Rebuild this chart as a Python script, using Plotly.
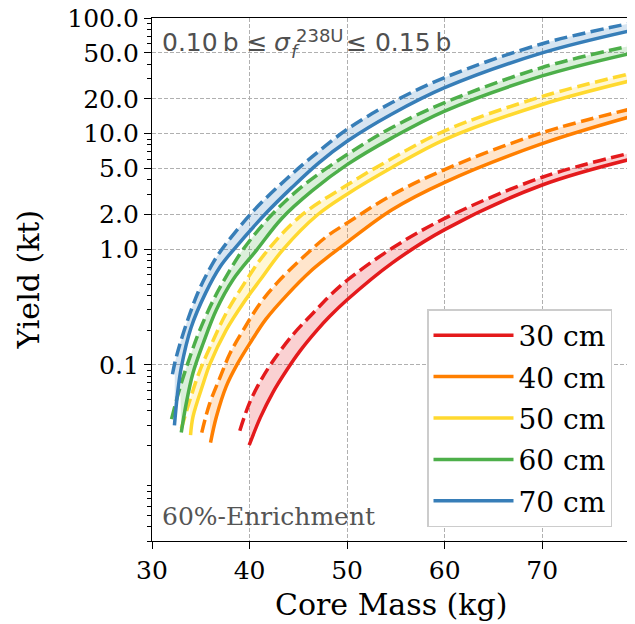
import plotly.graph_objects as go

# ---------------- data ----------------
# 70 cm
R70_DASH_X = [32.1, 32.35, 32.9, 33.9, 34.9, 36.3, 37.0, 37.6, 40.4, 43.7, 46.4, 50.0, 54.6, 60.0, 70.0, 79.0]
R70_DASH_Y = [0.083, 0.105, 0.155, 0.28, 0.46, 0.776, 0.955, 1.12, 2.15, 4.0, 6.3, 10.9, 18.6, 30.6, 60.0, 90.0]
R70_SOL_X = [32.3, 32.6, 33.0, 34.0, 35.5, 37.0, 38.4, 41.8, 44.3, 47.1, 50.0, 54.6, 60.0, 70.0, 79.0]
R70_SOL_Y = [0.03, 0.055, 0.095, 0.21, 0.42, 0.71, 1.0, 2.1, 3.4, 5.6, 8.6, 14.8, 25.0, 50.0, 77.6]
# 60 cm
R60_DASH_X = [32.0, 32.9, 33.9, 34.9, 36.3, 37.6, 39.35, 42.3, 45.4, 50.0, 54.6, 60.0, 70.0, 79.0]
R60_DASH_Y = [0.034, 0.065, 0.118, 0.20, 0.366, 0.58, 1.0, 2.0, 3.5, 6.6, 11.3, 18.6, 37.4, 57.5]
R60_SOL_X = [33.0, 33.5, 34.2, 35.25, 36.6, 38.3, 40.7, 43.3, 46.4, 50.0, 54.6, 60.0, 70.0, 79.0]
R60_SOL_Y = [0.026, 0.046, 0.085, 0.154, 0.30, 0.545, 0.98, 1.85, 3.2, 5.4, 9.2, 15.7, 31.6, 49.4]
# 50 cm
R50_DASH_X = [33.0, 33.9, 34.9, 36.3, 37.6, 39.35, 41.5, 45.1, 50.0, 54.6, 60.0, 70.0, 79.0]
R50_DASH_Y = [0.028, 0.05, 0.089, 0.165, 0.28, 0.49, 0.90, 1.9, 3.6, 6.1, 10.6, 21.0, 33.0]
R50_SOL_X = [33.95, 34.2, 35.25, 35.9, 37.6, 39.35, 41.1, 43.45, 47.0, 50.0, 54.6, 60.0, 70.0, 79.0]
R50_SOL_Y = [0.0247, 0.0356, 0.069, 0.10, 0.20, 0.342, 0.545, 1.0, 2.0, 3.0, 5.1, 8.9, 17.9, 28.6]
# 40 cm
R40_DASH_X = [35.1, 35.9, 37.0, 38.0, 39.35, 41.1, 42.8, 45.2, 47.9, 50.0, 54.6, 60.0, 70.0, 79.0]
R40_DASH_Y = [0.026, 0.046, 0.079, 0.126, 0.20, 0.342, 0.51, 0.81, 1.29, 1.69, 2.95, 4.9, 10.2, 16.3]
R40_SOL_X = [36.0, 36.6, 37.6, 38.7, 40.0, 41.7, 43.8, 46.2, 48.2, 50.0, 54.6, 60.0, 70.0, 79.0]
R40_SOL_Y = [0.0213, 0.0356, 0.065, 0.10, 0.152, 0.25, 0.40, 0.64, 0.88, 1.15, 2.2, 3.8, 8.2, 14.0]
# 30 cm
R30_DASH_X = [39.0, 40.0, 41.1, 42.4, 44.5, 46.5, 48.2, 50.0, 54.6, 60.0, 70.0, 79.0]
R30_DASH_Y = [0.027, 0.047, 0.072, 0.108, 0.185, 0.28, 0.395, 0.54, 1.02, 1.85, 4.2, 6.8]
R30_SOL_X = [39.96, 41.1, 42.4, 43.8, 45.2, 46.9, 48.2, 50.0, 54.6, 60.0, 70.0, 79.0]
R30_SOL_Y = [0.0202, 0.035, 0.058, 0.090, 0.133, 0.199, 0.262, 0.366, 0.76, 1.48, 3.6, 6.0]

LABELS = ["30 cm", "40 cm", "50 cm", "60 cm", "70 cm"]
COLORS = ["#e41a1c", "#ff7f00", "#ffd92f", "#4daf4a", "#377eb8"]
FILLS = ["rgba(228,26,28,0.2)", "rgba(255,127,0,0.2)", "rgba(255,217,47,0.2)",
         "rgba(77,175,74,0.2)", "rgba(55,126,184,0.2)"]

Y_TICKS = [0.1, 1, 2, 5, 10, 20, 50, 100]
Y_TICKTEXT = ["0.1", "1.0", "2.0", "5.0", "10.0", "20.0", "50.0", "100.0"]
X_TICKS = [30, 40, 50, 60, 70]

SERIES = [
    (R30_DASH_X, R30_DASH_Y, R30_SOL_X, R30_SOL_Y),
    (R40_DASH_X, R40_DASH_Y, R40_SOL_X, R40_SOL_Y),
    (R50_DASH_X, R50_DASH_Y, R50_SOL_X, R50_SOL_Y),
    (R60_DASH_X, R60_DASH_Y, R60_SOL_X, R60_SOL_Y),
    (R70_DASH_X, R70_DASH_Y, R70_SOL_X, R70_SOL_Y),
]

fig = go.Figure()
for (dx, dy, sx, sy), lab, col, fcol in zip(SERIES, LABELS, COLORS, FILLS):
    # band between the two cross-section limits
    keep = [i for i, v in enumerate(dx) if v >= sx[0] - 0.15]
    fig.add_trace(go.Scatter(x=[dx[i] for i in keep], y=[dy[i] for i in keep],
                             mode="lines", line=dict(width=0, shape="spline"),
                             hoverinfo="skip", showlegend=False))
    fig.add_trace(go.Scatter(x=sx, y=sy, mode="lines", line=dict(width=0, shape="spline"),
                             fill="tonexty", fillcolor=fcol,
                             hoverinfo="skip", showlegend=False))
    fig.add_trace(go.Scatter(x=dx, y=dy, mode="lines",
                             line=dict(color=col, width=3.5, dash="13px,5.5px", shape="spline"),
                             showlegend=False))
    fig.add_trace(go.Scatter(x=sx, y=sy, mode="lines", name=lab,
                             line=dict(color=col, width=3.5, shape="spline"),
                             legendgroup=lab))

# the page body has an 8 px default margin; the figure is sized to fit the window
OFF = 8
W, H = 635 - OFF, 624 - OFF
L, R, T, B = 144, 5, 10, 83
pw, ph = W - L - R, H - T - B


def px_x(p):
    """page pixel x -> paper coordinate"""
    return (p - OFF - L) / pw


def px_y(p):
    """page pixel y -> paper coordinate"""
    return (H - B - (p - OFF)) / ph


minor_vals = []
for dec in [0.001, 0.01, 0.1, 1, 10]:
    for m in range(2, 10):
        v = m * dec
        if 0.003 <= v <= 100 and v not in Y_TICKS:
            minor_vals.append(v)

grid = dict(showgrid=True, gridcolor="#b0b0b0", griddash="4px,2px", gridwidth=0.8)
axline = dict(showline=True, linecolor="black", linewidth=1.3, mirror=True,
              ticks="outside", ticklen=7, tickwidth=1.2, tickcolor="black", automargin=False,
              ticklabeloverflow="allow",
              tickfont=dict(family="DejaVu Serif", size=25, color="black"), zeroline=False)

fig.update_layout(
    width=W, height=H,
    margin=dict(l=L, r=R, t=T, b=B, autoexpand=False),
    paper_bgcolor="white", plot_bgcolor="white",
    xaxis=dict(range=[30, 79], tickvals=X_TICKS, ticktext=[str(v) for v in X_TICKS],
               **grid, **axline),
    yaxis=dict(type="log", range=[-2.5229, 2.0008], tickvals=Y_TICKS, ticktext=Y_TICKTEXT,
               minor=dict(tickvals=minor_vals, ticks="outside", ticklen=4, tickwidth=1,
                          tickcolor="black", showgrid=False),
               **grid, **axline),
    legend=dict(x=px_x(427), y=px_y(309), xanchor="left", yanchor="top",
                bgcolor="white", bordercolor="#cccccc", borderwidth=1.5,
                font=dict(family="DejaVu Serif", size=28, color="black"),
                itemwidth=80, traceorder="grouped", tracegroupgap=2),
    showlegend=True,
)

ann_font_sans = dict(family="DejaVu Sans", size=25, color="#505050")
annotations = [
    dict(text="Core Mass (kg)", x=0.5, y=px_y(604), xref="paper", yref="paper",
         showarrow=False, xanchor="center", yanchor="middle",
         font=dict(family="DejaVu Serif", size=30, color="black")),
    dict(text="Yield (kt)", x=px_x(28), y=0.5, xref="paper", yref="paper", textangle=-90,
         showarrow=False, xanchor="center", yanchor="middle",
         font=dict(family="DejaVu Serif", size=30, color="black")),
    dict(text="60%-Enrichment", x=px_x(161), y=px_y(516), xref="paper", yref="paper",
         showarrow=False, xanchor="left", yanchor="middle",
         font=dict(family="DejaVu Serif", size=25, color="#555555")),
    dict(text="0.10\u2009b \u2264", x=px_x(161), y=px_y(42), xref="paper", yref="paper",
         showarrow=False, xanchor="left", yanchor="middle", font=ann_font_sans),
    dict(text="<i>\u03c3</i>", x=px_x(273), y=px_y(42), xref="paper", yref="paper",
         showarrow=False, xanchor="left", yanchor="middle", font=ann_font_sans),
    dict(text="238U", x=px_x(295), y=px_y(35), xref="paper", yref="paper",
         showarrow=False, xanchor="left", yanchor="middle",
         font=dict(family="DejaVu Sans", size=18, color="#505050")),
    dict(text="<i>f</i>", x=px_x(290), y=px_y(52), xref="paper", yref="paper",
         showarrow=False, xanchor="left", yanchor="middle",
         font=dict(family="DejaVu Sans", size=18, color="#505050")),
    dict(text="\u2264 0.15\u2009b", x=px_x(345), y=px_y(42), xref="paper", yref="paper",
         showarrow=False, xanchor="left", yanchor="middle", font=ann_font_sans),
]
for a in annotations:
    a["borderpad"] = 0
fig.update_layout(annotations=annotations)

fig.write_html("out.html")
